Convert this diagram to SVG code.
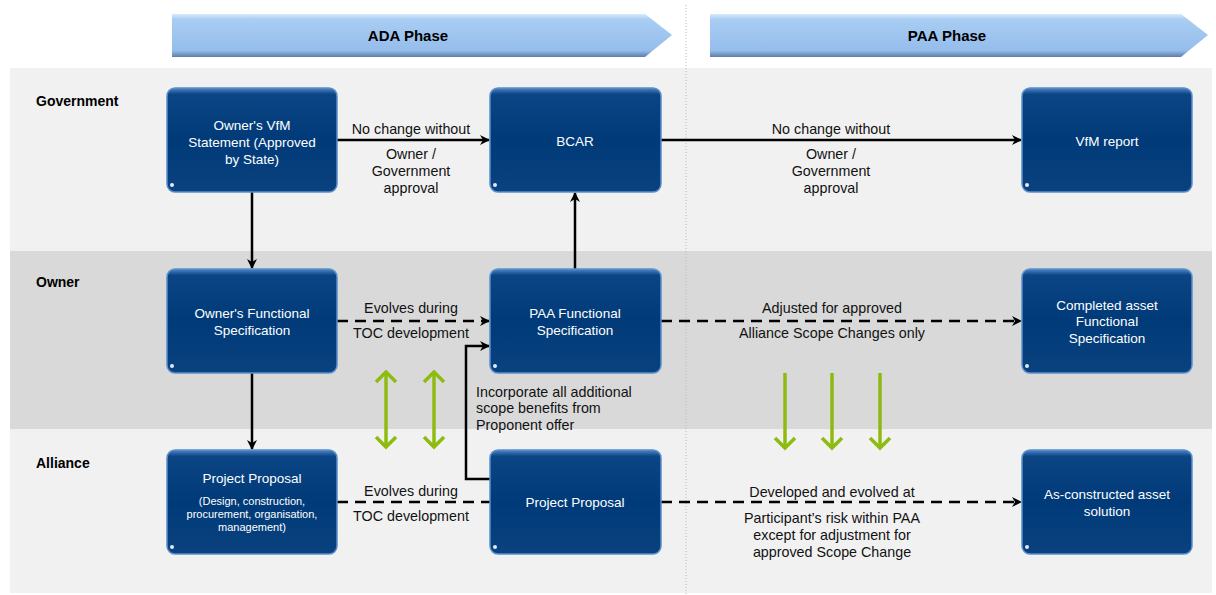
<svg xmlns="http://www.w3.org/2000/svg" width="1216" height="595" viewBox="0 0 1216 595">
<defs>
<linearGradient id="phase" x1="0" y1="0" x2="0" y2="1">
<stop offset="0" stop-color="#d6ebfb"/>
<stop offset="0.12" stop-color="#a9cdf3"/>
<stop offset="0.85" stop-color="#95bdec"/>
<stop offset="1" stop-color="#5c7ea6"/>
</linearGradient>
<linearGradient id="nodeg" x1="0" y1="0" x2="0" y2="1">
<stop offset="0" stop-color="#4f86c6"/>
<stop offset="0.06" stop-color="#0b4585"/>
<stop offset="0.5" stop-color="#003a78"/>
<stop offset="1" stop-color="#0a427f"/>
</linearGradient>
<marker id="ah" markerWidth="12" markerHeight="12" refX="10" refY="6" orient="auto" markerUnits="userSpaceOnUse">
<path d="M1,1 L11,6 L1,11 L4,6 z" fill="#000"/>
</marker>
<style>
.band1{fill:#f1f1f1}
.band2{fill:#d9d9d9}
.lane{font-family:"Liberation Sans",Arial,sans-serif;font-size:14px;font-weight:bold;fill:#000}
.phase{font-family:"Liberation Sans",Arial,sans-serif;font-size:15px;font-weight:bold;fill:#000;text-anchor:middle}
.box{fill:url(#nodeg);stroke:#5a8fcc;stroke-width:1.5}
.nt{font-family:"Liberation Sans",Arial,sans-serif;font-size:13.5px;fill:#fff;text-anchor:middle}
.ns{font-family:"Liberation Sans",Arial,sans-serif;font-size:11px;fill:#fff;text-anchor:middle}
.lbl{font-family:"Liberation Sans",Arial,sans-serif;font-size:14.3px;fill:#111;text-anchor:middle}
.lbll{font-family:"Liberation Sans",Arial,sans-serif;font-size:14.3px;fill:#111}
.solid{stroke:#000;stroke-width:2.5;fill:none}
.dash{stroke:#000;stroke-width:2.5;fill:none;stroke-dasharray:11 7}
.green{stroke:#8dbb10;stroke-width:3.5;fill:none}
.dot{fill:#dde9f6}
</style>
</defs>
<rect width="1216" height="595" fill="#fff"/>
<rect class="band1" x="10" y="68" width="1202" height="183"/>
<rect class="band2" x="10" y="251" width="1202" height="178"/>
<rect class="band1" x="10" y="429" width="1202" height="164"/>
<line x1="686" y1="5" x2="686" y2="595" stroke="#b8b8b8" stroke-width="1" stroke-dasharray="1 2"/>

<g id="phase-ada">
<path d="M172,14 L645,14 L672,35 L645,57 L172,57 z" fill="url(#phase)"/>
<text class="phase" x="408" y="41">ADA Phase</text>
</g>
<g id="phase-paa">
<path d="M710,14 L1181,14 L1208,35 L1181,57 L710,57 z" fill="url(#phase)"/>
<text class="phase" x="947" y="41">PAA Phase</text>
</g>

<g id="lanes">
<text class="lane" x="36" y="106">Government</text>
<text class="lane" x="36" y="287">Owner</text>
<text class="lane" x="36" y="468">Alliance</text>
</g>

<g id="connectors">
<line class="solid" x1="337" y1="140" x2="489" y2="140" marker-end="url(#ah)"/>
<line class="solid" x1="661" y1="140" x2="1021" y2="140" marker-end="url(#ah)"/>
<line class="solid" x1="252" y1="192" x2="252" y2="268" marker-end="url(#ah)"/>
<line class="solid" x1="252" y1="373" x2="252" y2="449" marker-end="url(#ah)"/>
<line class="solid" x1="575" y1="269" x2="575" y2="193" marker-end="url(#ah)"/>
<polyline class="solid" points="490,479 466,479 466,346 489,346" marker-end="url(#ah)"/>
<line class="dash" x1="337" y1="321" x2="489" y2="321" marker-end="url(#ah)"/>
<line class="dash" x1="661" y1="321" x2="1021" y2="321" marker-end="url(#ah)"/>
<line class="dash" x1="337" y1="502" x2="490" y2="502"/>
<line class="dash" x1="661" y1="502" x2="1021" y2="502" marker-end="url(#ah)"/>
<g class="green">
<line x1="386" y1="372" x2="386" y2="447"/>
<polyline points="376,382 386,372 396,382"/>
<polyline points="376,437 386,447 396,437"/>
<line x1="434" y1="372" x2="434" y2="447"/>
<polyline points="424,382 434,372 444,382"/>
<polyline points="424,437 434,447 444,437"/>
<line x1="785" y1="373" x2="785" y2="448"/>
<polyline points="775,438 785,448 795,438"/>
<line x1="832" y1="373" x2="832" y2="448"/>
<polyline points="822,438 832,448 842,438"/>
<line x1="880" y1="373" x2="880" y2="448"/>
<polyline points="870,438 880,448 890,438"/>
</g>
<text class="lbl" x="411" y="134">No change without</text>
<text class="lbl" x="411" y="159">Owner /</text>
<text class="lbl" x="411" y="176">Government</text>
<text class="lbl" x="411" y="193">approval</text>
<text class="lbl" x="831" y="134">No change without</text>
<text class="lbl" x="831" y="159">Owner /</text>
<text class="lbl" x="831" y="176">Government</text>
<text class="lbl" x="831" y="193">approval</text>
<text class="lbl" x="411" y="313">Evolves during</text>
<text class="lbl" x="411" y="338">TOC development</text>
<text class="lbl" x="832" y="313">Adjusted for approved</text>
<text class="lbl" x="832" y="338">Alliance Scope Changes only</text>
<text class="lbll" x="476" y="397">Incorporate all additional</text>
<text class="lbll" x="476" y="413">scope benefits from</text>
<text class="lbll" x="476" y="430">Proponent offer</text>
<text class="lbl" x="411" y="496">Evolves during</text>
<text class="lbl" x="411" y="521">TOC development</text>
<text class="lbl" x="832" y="497">Developed and evolved at</text>
<text class="lbl" x="832" y="523">Participant’s risk within PAA</text>
<text class="lbl" x="832" y="540">except for adjustment for</text>
<text class="lbl" x="832" y="557">approved Scope Change</text>
</g>

<g id="n-vfm-statement">
<rect class="box" x="167" y="88" width="170" height="104" rx="8"/>
<circle class="dot" cx="172" cy="185" r="2"/>
<text class="nt" x="252" y="130">Owner's VfM</text>
<text class="nt" x="252" y="147">Statement (Approved</text>
<text class="nt" x="252" y="164">by State)</text>
</g>
<g id="n-bcar">
<rect class="box" x="490" y="88" width="171" height="104" rx="8"/>
<circle class="dot" cx="495" cy="185" r="2"/>
<text class="nt" x="575" y="146">BCAR</text>
</g>
<g id="n-vfm-report">
<rect class="box" x="1022" y="88" width="170" height="104" rx="8"/>
<circle class="dot" cx="1027" cy="185" r="2"/>
<text class="nt" x="1107" y="146">VfM report</text>
</g>
<g id="n-owner-fs">
<rect class="box" x="167" y="269" width="170" height="104" rx="8"/>
<circle class="dot" cx="172" cy="366" r="2"/>
<text class="nt" x="252" y="318">Owner's Functional</text>
<text class="nt" x="252" y="335">Specification</text>
</g>
<g id="n-paa-fs">
<rect class="box" x="490" y="269" width="171" height="104" rx="8"/>
<circle class="dot" cx="495" cy="366" r="2"/>
<text class="nt" x="575" y="318">PAA Functional</text>
<text class="nt" x="575" y="335">Specification</text>
</g>
<g id="n-completed">
<rect class="box" x="1022" y="269" width="170" height="104" rx="8"/>
<circle class="dot" cx="1027" cy="366" r="2"/>
<text class="nt" x="1107" y="310">Completed asset</text>
<text class="nt" x="1107" y="326">Functional</text>
<text class="nt" x="1107" y="343">Specification</text>
</g>
<g id="n-proposal-1">
<rect class="box" x="167" y="450" width="170" height="104" rx="8"/>
<circle class="dot" cx="172" cy="547" r="2"/>
<text class="nt" x="252" y="483">Project  Proposal</text>
<text class="ns" x="252" y="505">(Design, construction,</text>
<text class="ns" x="252" y="518">procurement, organisation,</text>
<text class="ns" x="252" y="531">management)</text>
</g>
<g id="n-proposal-2">
<rect class="box" x="490" y="450" width="171" height="104" rx="8"/>
<circle class="dot" cx="495" cy="547" r="2"/>
<text class="nt" x="575" y="507">Project Proposal</text>
</g>
<g id="n-as-constructed">
<rect class="box" x="1022" y="450" width="170" height="104" rx="8"/>
<circle class="dot" cx="1027" cy="547" r="2"/>
<text class="nt" x="1107" y="499">As-constructed asset</text>
<text class="nt" x="1107" y="516">solution</text>
</g>
</svg>
